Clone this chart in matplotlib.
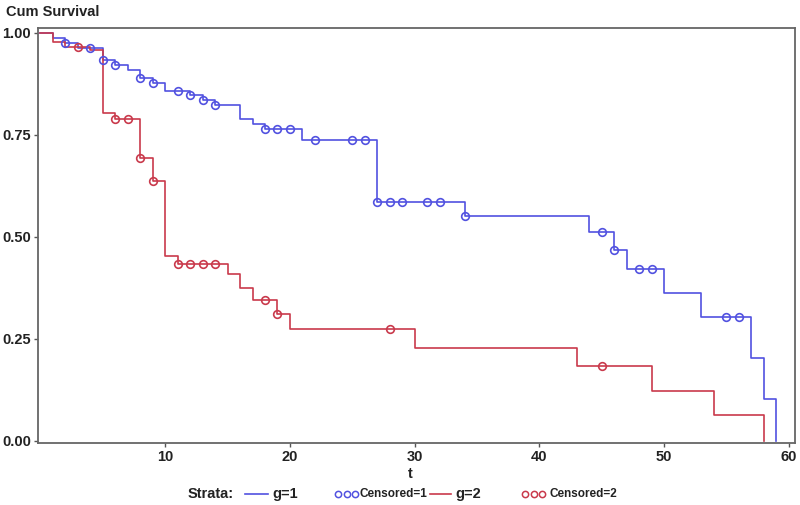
import matplotlib
matplotlib.use("Agg")
import matplotlib.pyplot as plt
from matplotlib.lines import Line2D
import numpy as np

plt.rcParams['font.family'] = ['Liberation Sans', 'DejaVu Sans']

# ---- data ----
times_g1 = [0, 1, 2, 3, 5, 6, 7, 8, 9, 10, 12, 13, 14, 16, 17, 18, 21, 27, 34,
            44, 46, 47, 50, 53, 57, 58, 59]
surv_g1 = [1.0, 0.988, 0.976, 0.964, 0.934, 0.921, 0.910, 0.889, 0.878, 0.858,
           0.847, 0.836, 0.823, 0.788, 0.777, 0.764, 0.738, 0.586, 0.551,
           0.511, 0.468, 0.421, 0.362, 0.303, 0.203, 0.102, 0.0]
censor_g1 = [2, 4, 5, 6, 8, 9, 11, 12, 13, 14, 18, 19, 20, 22, 25, 26, 27, 28,
             29, 31, 32, 34, 45, 46, 48, 49, 55, 56]

times_g2 = [0, 1, 2, 4, 5, 6, 8, 9, 10, 11, 15, 16, 17, 19, 20, 30, 43, 49, 54, 58]
surv_g2 = [1.0, 0.977, 0.966, 0.957, 0.803, 0.790, 0.693, 0.637, 0.452, 0.432,
           0.409, 0.374, 0.344, 0.311, 0.273, 0.228, 0.182, 0.122, 0.062, 0.0]
censor_g2 = [3, 6, 7, 8, 9, 11, 12, 13, 14, 18, 19, 28, 45]

x_ticks = [10, 20, 30, 40, 50, 60]
y_ticks = [0.00, 0.25, 0.50, 0.75, 1.00]

blue = "#5252e0"
red = "#c93a4c"


def level_at(times, surv, t):
    idx = np.searchsorted(times, t, side='right') - 1
    return surv[idx]


fig = plt.figure(figsize=(8.0, 5.05), dpi=100)
ax = fig.add_axes([38 / 800, 1 - 443 / 505, 757 / 800, 415 / 505])

ax.step(times_g1, surv_g1, where='post', color=blue, lw=1.2)
ax.step(times_g2, surv_g2, where='post', color=red, lw=1.2)

cy1 = [level_at(times_g1, surv_g1, t) for t in censor_g1]
cy2 = [level_at(times_g2, surv_g2, t) for t in censor_g2]
ax.plot(censor_g1, cy1, 'o', ms=5.5, mfc='none', mec=blue, mew=1.2)
ax.plot(censor_g2, cy2, 'o', ms=5.5, mfc='none', mec=red, mew=1.2)

ax.set_xlim(-0.2, 60.5)
ax.set_ylim(-0.006, 1.012)
ax.set_xticks(x_ticks)
ax.set_yticks(y_ticks)
ax.set_xticklabels([str(v) for v in x_ticks], fontsize=10.5, fontweight='bold', color='#222222')
ax.set_yticklabels([f"{v:.2f}" for v in y_ticks], fontsize=10.5, fontweight='bold', color='#222222')
ax.tick_params(axis='both', direction='out', length=3, width=1, color='#555555', pad=2)
for s in ax.spines.values():
    s.set_color('#666666')
    s.set_linewidth(1.3)

fig.text(6 / 800, 1 - 12 / 505, "Cum Survival", fontsize=10.5, fontweight='bold',
         color='#222222', va='center', ha='left')
fig.text(410 / 800, 1 - 474 / 505, "t", fontsize=10.5, fontweight='bold',
         color='#222222', va='center', ha='center')

# legend row
ly = 1 - 494 / 505
fig.text(188 / 800, ly, "Strata:", fontsize=10.5, fontweight='bold', color='#222222', va='center')
fig.add_artist(Line2D([245 / 800, 268 / 800], [ly, ly], color=blue, lw=1.2))
fig.text(272 / 800, ly, "g=1", fontsize=10.5, fontweight='bold', color='#222222', va='center')
fig.add_artist(Line2D([338 / 800, 346.5 / 800, 355 / 800], [ly, ly, ly], ls='none', marker='o',
                      ms=4.5, mfc='none', mec=blue, mew=1.1))
fig.text(359 / 800, ly, "Censored=1", fontsize=8.5, fontweight='bold', color='#222222', va='center')
fig.add_artist(Line2D([430 / 800, 451 / 800], [ly, ly], color=red, lw=1.2))
fig.text(455 / 800, ly, "g=2", fontsize=10.5, fontweight='bold', color='#222222', va='center')
fig.add_artist(Line2D([525 / 800, 533.5 / 800, 542 / 800], [ly, ly, ly], ls='none', marker='o',
                      ms=4.5, mfc='none', mec=red, mew=1.1))
fig.text(550 / 800, ly, "Censored=2", fontsize=8.5, fontweight='bold', color='#222222', va='center')

fig.savefig("out.png", dpi=100)
